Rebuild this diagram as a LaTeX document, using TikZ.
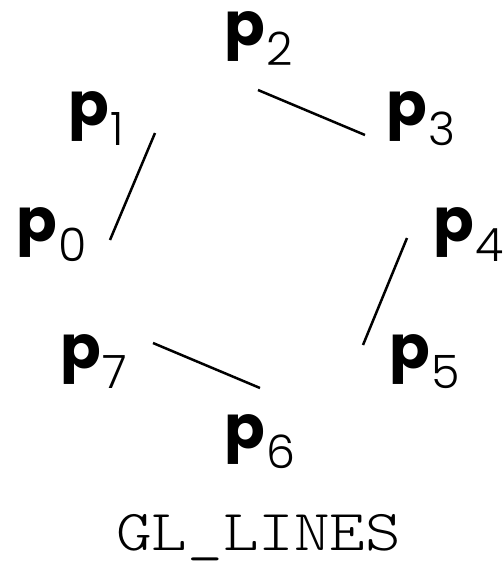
\documentclass[tikz,border=0pt]{standalone}
\usepackage{fontspec}
\newfontfamily\pbold{Poppins}[UprightFont=* Bold]
\newfontfamily\plight{Poppins Light}
\newfontfamily\capfont{lmmonolt10-regular.otf}
\newcommand{\pt}[1]{{\fontsize{60}{60}\pbold p}\kern2pt\raisebox{-20pt}{\fontsize{46}{46}\plight #1}}
\begin{document}
\begin{tikzpicture}[x=1pt,y=-1pt,
  lbl/.style={inner sep=0pt,anchor=base west},
  seg/.style={line width=2.5pt}]
\useasboundingbox (0,0) rectangle (504,566);
\node[lbl] (p0) at (16,241) {\pt{0}};
\node[lbl] (p1) at (68,125) {\pt{1}};
\node[lbl] (p2) at (224,45) {\pt{2}};
\node[lbl] (p3) at (386,125) {\pt{3}};
\node[lbl] (p4) at (433,241) {\pt{4}};
\node[lbl] (p5) at (389,368) {\pt{5}};
\node[lbl] (p6) at (224,448) {\pt{6}};
\node[lbl] (p7) at (60,368) {\pt{7}};
\coordinate (a0) at (110,240);
\coordinate (a1) at (155,133);
\coordinate (a2) at (258,90);
\coordinate (a3) at (365,135);
\coordinate (a4) at (407,238);
\coordinate (a5) at (363,345);
\coordinate (a6) at (260,388);
\coordinate (a7) at (153,343);
\draw[seg] (a0) -- (a1);
\draw[seg] (a2) -- (a3);
\draw[seg] (a4) -- (a5);
\draw[seg] (a6) -- (a7);
\node[lbl,xscale=1.17] (cap) at (116,550) {\fontsize{58}{58}\capfont GL\_LINES};
\end{tikzpicture}
\end{document}
